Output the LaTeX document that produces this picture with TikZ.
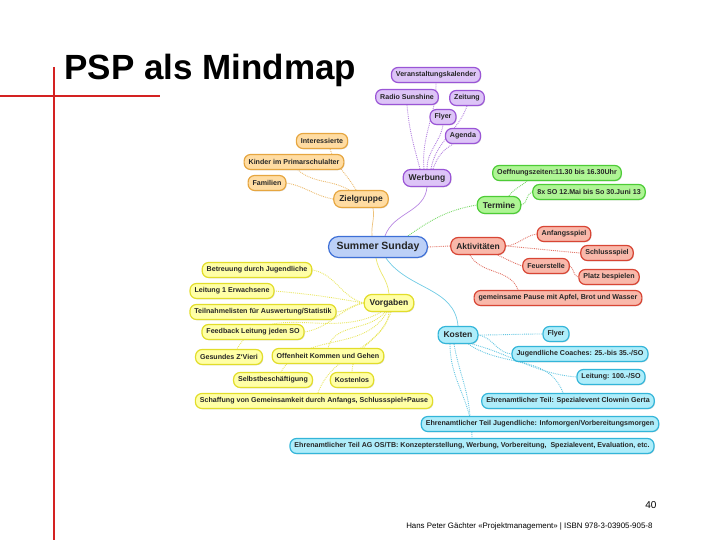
\documentclass[tikz,border=0pt]{standalone}
\usepackage{fontspec}
\setmainfont{Liberation Sans}
\usetikzlibrary{positioning,shadows,backgrounds}
\definecolor{purB}{HTML}{9A55D6}\definecolor{purF}{HTML}{DDC4F7}
\definecolor{oraB}{HTML}{E6A640}\definecolor{oraF}{HTML}{FFDCA2}
\definecolor{bluB}{HTML}{3D6FD6}\definecolor{bluF}{HTML}{BCD0F7}
\definecolor{grnB}{HTML}{4DCC36}\definecolor{grnF}{HTML}{AEF594}
\definecolor{redB}{HTML}{D84534}\definecolor{redF}{HTML}{F9B8AA}
\definecolor{yelB}{HTML}{E2DD2A}\definecolor{yelF}{HTML}{FFFFA6}
\definecolor{cyaB}{HTML}{33B5D9}\definecolor{cyaF}{HTML}{AEEDFA}
\definecolor{slidered}{HTML}{D42222}
\begin{document}
\begin{tikzpicture}[x=1pt,y=1pt, mm/.style={draw=#1B,fill=#1F,line width=1.2pt,rounded corners=6.5pt,inner xsep=4.5pt,inner ysep=0pt,minimum height=15pt,font=\fontsize{7.1}{8}\selectfont\bfseries,text=black!85,drop shadow={opacity=0.25,shadow xshift=0.8pt,shadow yshift=-0.8pt}}, topic/.style={mm=#1,minimum height=17pt,rounded corners=7.5pt,inner xsep=5.5pt,font=\fontsize{8.5}{9}\selectfont\bfseries}, link/.style={draw=#1B!75,densely dotted,line width=0.9pt}, trunk/.style={draw=#1B!70,line width=0.7pt}]
\useasboundingbox (0,0) rectangle (720,-540);
\draw[slidered,line width=2pt] (0,-96) -- (160,-96);
\draw[slidered,line width=2pt] (54,-67) -- (54,-540);
\node[anchor=base west,font=\fontsize{35}{40}\selectfont\bfseries] (title) at (61,-80) {PSP als Mindmap};
\node[topic=blu,minimum height=21pt,rounded corners=10pt,inner xsep=8pt,font=\fontsize{10.5}{12}\selectfont\bfseries] (root) at (378,-247) {Summer Sunday};
% Werbung
\node[topic=pur] (werb) at (427,-178) {Werbung};
\node[mm=pur] (kal) at (436,-75) {Veranstaltungskalender};
\node[mm=pur] (radio) at (407,-97) {Radio Sunshine};
\node[mm=pur] (zeit) at (467,-98) {Zeitung};
\node[mm=pur] (flyw) at (443,-117) {Flyer};
\node[mm=pur] (agenda) at (463,-136) {Agenda};
% Zielgruppe
\node[topic=ora] (ziel) at (361,-199) {Zielgruppe};
\node[mm=ora] (inter) at (322,-141) {Interessierte};
\node[mm=ora] (kind) at (294,-162) {Kinder im Primarschulalter};
\node[mm=ora] (fam) at (267,-183) {Familien};
% Termine
\node[topic=grn] (term) at (499,-205) {Termine};
\node[mm=grn] (oeff) at (557,-173) {Oeffnungszeiten:11.30 bis 16.30Uhr};
\node[mm=grn] (acht) at (589,-192) {8x SO 12.Mai bis So 30.Juni 13};
% Aktivitaeten
\node[topic=red] (akt) at (478,-246) {Aktivitäten};
\node[mm=red] (anf) at (564,-234) {Anfangsspiel};
\node[mm=red] (schl) at (607,-253) {Schlussspiel};
\node[mm=red] (feuer) at (546,-266) {Feuerstelle};
\node[mm=red] (platz) at (609,-277) {Platz bespielen};
\node[mm=red] (pause) at (558,-298) {gemeinsame Pause mit Apfel, Brot und Wasser};
% Vorgaben
\node[topic=yel] (vorg) at (389,-303) {Vorgaben};
\node[mm=yel] (betr) at (257,-270) {Betreuung durch Jugendliche};
\node[mm=yel] (leit1) at (232,-291) {Leitung 1 Erwachsene};
\node[mm=yel] (teil) at (263,-312) {Teilnahmelisten für Auswertung/Statistik};
\node[mm=yel] (feed) at (253,-332) {Feedback Leitung jeden SO};
\node[mm=yel] (ges) at (229,-357) {Gesundes Z`Vieri};
\node[mm=yel] (offen) at (328,-356) {Offenheit Kommen und Gehen};
\node[mm=yel] (selbst) at (273,-380) {Selbstbeschäftigung};
\node[mm=yel] (kostl) at (352,-380) {Kostenlos};
\node[mm=yel] (schaff) at (314,-401) {Schaffung von Gemeinsamkeit durch Anfangs, Schlussspiel+Pause};
% Kosten
\node[topic=cya] (kost) at (458,-335) {Kosten};
\node[mm=cya] (fly2) at (556,-334) {Flyer};
\node[mm=cya] (coach) at (580,-354) {Jugendliche Coaches: 25.-bis 35.-/SO};
\node[mm=cya] (leit2) at (611,-377) {Leitung: 100.-/SO};
\node[mm=cya] (clown) at (568,-401) {Ehrenamtlicher Teil: Spezialevent Clownin Gerta};
\node[mm=cya] (info) at (540,-424) {Ehrenamtlicher Teil Jugendliche: Infomorgen/Vorbereitungsmorgen};
\node[mm=cya] (ag) at (472,-446) {Ehrenamtlicher Teil AG OS/TB: Konzepterstellung, Werbung, Vorbereitung,\ \ Spezialevent, Evaluation, etc.};
% footer
\node[anchor=base east,font=\fontsize{10}{12}\selectfont] (page) at (660,-508) {40};
\node[anchor=base east,font=\fontsize{7.9}{9}\selectfont] (src) at (656,-528) {Hans Peter Gächter «Projektmanagement» | ISBN 978-3-03905-905-8};
\begin{scope}[on background layer]
\draw[trunk=pur] ([xshift=7pt]root.north) to[out=70,in=-95] (werb.south);
\draw[trunk=ora] ([xshift=-6pt]root.north) to[out=95,in=-80] ([xshift=12pt]ziel.south);
\draw[link=grn] ([xshift=30pt]root.north) to[out=35,in=190] (term.west);
\draw[link=red] (root.east) -- (akt.west);
\draw[trunk=yel] ([xshift=-2pt]root.south) to[out=-80,in=95] (vorg.north);
\draw[trunk=cya] ([xshift=8pt]root.south) to[out=-55,in=95] (kost.north);
\draw[link=pur] ([xshift=-7pt]werb.north) to[out=105,in=-85] (radio.south);
\draw[link=pur] ([xshift=-3pt]werb.north) to[out=95,in=-90] (kal.south);
\draw[link=pur] ([xshift=4pt]werb.north) to[out=80,in=-110] (zeit.south);
\draw[link=pur] (werb.north) to[out=90,in=-100] (flyw.south);
\draw[link=pur] ([xshift=6pt]werb.north) to[out=70,in=-150] ([xshift=-10pt]agenda.south);
\draw[link=ora] ([xshift=-5pt]ziel.north) to[out=120,in=-70] ([xshift=8pt]inter.south);
\draw[link=ora] ([xshift=-12pt]ziel.north) to[out=150,in=-40] ([xshift=4pt]kind.south);
\draw[link=ora] (ziel.west) to[out=170,in=-10] (fam.east);
\draw[link=grn] ([xshift=10pt]term.north) to[out=55,in=-140] ([xshift=-30pt]oeff.south);
\draw[link=grn] (term.east) to[out=5,in=-170] (acht.west);
\draw[link=red] (akt.east) to[out=5,in=-170] (anf.west);
\draw[link=red] (akt.east) to[out=-5,in=175] (schl.west);
\draw[link=red] ([xshift=-8pt]akt.south east) to[out=-25,in=160] (feuer.west);
\draw[link=red] (feuer.east) to[out=-30,in=170] (platz.west);
\draw[link=red] ([xshift=-8pt]akt.south) to[out=-60,in=110] ([xshift=-40pt]pause.north);
\draw[link=yel] (vorg.west) to[out=165,in=-10] (betr.east);
\draw[link=yel] (vorg.west) to[out=170,in=-5] (leit1.east);
\draw[link=yel] (vorg.west) to[out=185,in=5] (teil.east);
\draw[link=yel] (vorg.west) to[out=195,in=10] (feed.east);
\draw[link=yel] ([xshift=-8pt]vorg.south) to[out=-150,in=60] ([xshift=8pt]ges.north);
\draw[link=yel] ([xshift=-4pt]vorg.south) to[out=-130,in=75] (offen.north);
\draw[link=yel] ([xshift=-2pt]vorg.south) to[out=-120,in=60] ([xshift=8pt]selbst.north);
\draw[link=yel] (vorg.south) to[out=-95,in=90] (kostl.north);
\draw[link=yel] ([xshift=2pt]vorg.south) to[out=-110,in=70] ([xshift=4pt]schaff.north);
\draw[link=cya] (kost.east) to[out=0,in=180] (fly2.west);
\draw[link=cya] (kost.east) to[out=-10,in=175] (coach.west);
\draw[link=cya] ([xshift=-6pt]kost.south east) to[out=-15,in=175] (leit2.west);
\draw[link=cya] ([xshift=-10pt]kost.south east) to[out=-35,in=110] ([xshift=-5pt]clown.north);
\draw[link=cya] ([xshift=-4pt]kost.south) to[out=-80,in=95] ([xshift=-70pt]info.north);
\draw[link=cya] ([xshift=-8pt]kost.south) to[out=-90,in=90] (ag.north);
\end{scope}
\end{tikzpicture}
\end{document}
